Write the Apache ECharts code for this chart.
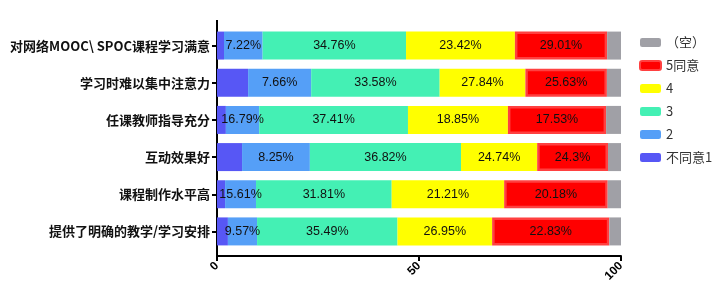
<!DOCTYPE html>
<html>
<head>
<meta charset="utf-8">
<script src="https://cdn.jsdelivr.net/npm/echarts@6/dist/echarts.min.js"></script>
<style>
  html,body{margin:0;padding:0;background:#fff;}
  #main{width:728px;height:304px;}
</style>
</head>
<body>
<div id="main"></div>
<script>
  // 题目（从上到下）
  var categories=[
    "对网络MOOC\\ SPOC课程学习满意",
    "学习时难以集中注意力",
    "任课教师指导充分",
    "互动效果好",
    "课程制作水平高",
    "提供了明确的教学/学习安排"
  ];
  var seriesNames=["不同意1","2","3","4","5同意","（空）"];
  // 各段宽度（%）
  var valuesDisagree=[1.73,7.7,2.2,6.2,2.0,2.7];
  var values2=[9.57,15.61,8.25,16.79,7.66,7.22];
  var values3=[35.49,31.81,36.82,37.41,33.58,34.76];
  var values4=[26.95,21.21,24.74,18.85,27.84,23.42];
  var values5=[22.83,20.18,24.3,17.53,25.63,29.01];
  var valuesBlank=[3.43,3.49,3.69,3.22,3.29,2.89];
  // 图上显示的标签文字
  var labels2=["7.22%","7.66%","16.79%","8.25%","15.61%","9.57%"];
  var labels3=["34.76%","33.58%","37.41%","36.82%","31.81%","35.49%"];
  var labels4=["23.42%","27.84%","18.85%","24.74%","21.21%","26.95%"];
  var labels5=["29.01%","25.63%","17.53%","24.3%","20.18%","22.83%"];
  var xTicks=[0,50,100];

  var colors=["#5757f5","#559ff7","#44f0b4","#ffff00","#ff0000","#a0a0a6"];

  var labelStyle=function(texts){
    return {
      show:true,
      position:"inside",
      color:"#111",
      fontFamily:"Liberation Sans, Arial, sans-serif",
      fontSize:12.5,
      formatter:function(p){ return texts[p.dataIndex]; }
    };
  };

  var makeSeries=function(name,data,color,texts){
    var s={
      name:name,
      type:"bar",
      stack:"all",
      barWidth:28,
      data:data,
      itemStyle:{color:color},
      label:texts?labelStyle(texts):{show:false},
      emphasis:{disabled:true}
    };
    return s;
  };

  var series=[
    makeSeries(seriesNames[0],valuesDisagree,colors[0]),
    makeSeries(seriesNames[1],values2,colors[1],labels2),
    makeSeries(seriesNames[2],values3,colors[2],labels3),
    makeSeries(seriesNames[3],values4,colors[3],labels4),
    makeSeries(seriesNames[4],values5,colors[4],labels5),
    makeSeries(seriesNames[5],valuesBlank,colors[5])
  ];
  series[4].itemStyle={color:colors[4],borderColor:"#ff4040",borderWidth:2.5};

  var gridLeft=217, gridTop=27, gridBottomY=250;

  var chart=echarts.init(document.getElementById("main"));
  chart.setOption({
    animation:false,
    grid:{left:gridLeft,top:gridTop,width:404,height:gridBottomY-gridTop,containLabel:false,outerBoundsMode:"none"},
    legend:{
      data:seriesNames.slice().reverse(),
      orient:"vertical",
      left:634,
      top:31,
      itemWidth:21,
      itemHeight:9,
      itemGap:10,
      textStyle:{fontFamily:"Noto Sans CJK SC",fontSize:13,color:"#333"}
    },
    xAxis:{
      type:"value",
      min:0,
      max:100,
      interval:50,
      offset:6,
      splitLine:{show:false},
      axisLine:{show:true,lineStyle:{color:"#000",width:2}},
      axisTick:{show:true,length:5,lineStyle:{color:"#000",width:2}},
      axisLabel:{
        rotate:45,
        margin:8,
        color:"#000",
        fontWeight:"bold",
        fontFamily:"Liberation Sans, Arial, sans-serif",
        fontSize:12,
        formatter:function(v){ return xTicks.indexOf(v)>=0?String(v):""; }
      }
    },
    yAxis:{
      type:"category",
      inverse:true,
      data:categories,
      axisLine:{show:false},
      axisTick:{show:true,alignWithLabel:true,length:5,lineStyle:{color:"#000",width:2}},
      axisLabel:{
        margin:7,
        color:"#111",
        fontWeight:"bold",
        fontFamily:"Noto Sans CJK SC",
        fontSize:13
      }
    },
    graphic:[{
      type:"line",
      shape:{x1:gridLeft,y1:20,x2:gridLeft,y2:gridBottomY+7},
      style:{stroke:"#000",lineWidth:2}
    }],
    series:series
  });
</script>
</body>
</html>
